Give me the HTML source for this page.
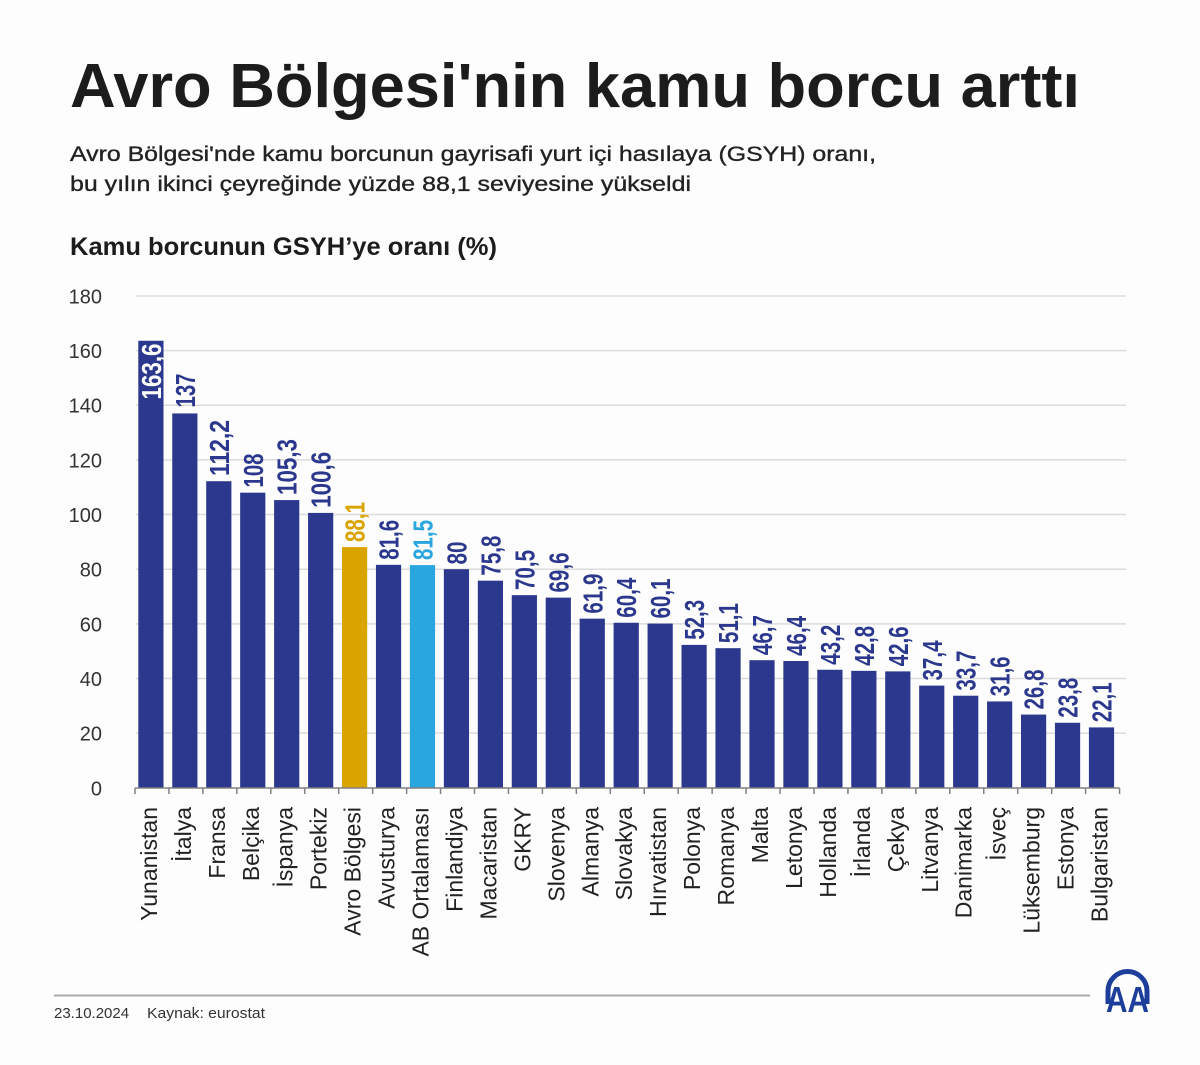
<!DOCTYPE html>
<html>
<head>
<meta charset="utf-8">
<style>
html,body{margin:0;padding:0;background:#fdfdfd;}
svg{display:block;}
text{font-family:"Liberation Sans",Arial,sans-serif;}
</style>
</head>
<body>
<svg width="1200" height="1065" viewBox="0 0 1200 1065" xmlns="http://www.w3.org/2000/svg">
<rect x="0" y="0" width="1200" height="1065" fill="#fdfdfd"/>

<!-- Titles -->
<text x="70" y="107" font-size="62" font-weight="bold" fill="#1c1c1c" textLength="1010" lengthAdjust="spacingAndGlyphs">Avro Bölgesi'nin kamu borcu arttı</text>
<text x="70" y="161" font-size="21" fill="#222" stroke="#222" stroke-width="0.35" textLength="806" lengthAdjust="spacingAndGlyphs">Avro Bölgesi'nde kamu borcunun gayrisafi yurt içi hasılaya (GSYH) oranı,</text>
<text x="70" y="191" font-size="21" fill="#222" stroke="#222" stroke-width="0.35" textLength="621" lengthAdjust="spacingAndGlyphs">bu yılın ikinci çeyreğinde yüzde 88,1 seviyesine yükseldi</text>
<text x="70" y="255" font-size="25" font-weight="bold" fill="#1c1c1c" textLength="427" lengthAdjust="spacingAndGlyphs">Kamu borcunun GSYH’ye oranı (%)</text>

<!-- Gridlines -->
<g stroke="#dcdcdc" stroke-width="1.5">
<line x1="136" y1="733.15" x2="1126" y2="733.15"/>
<line x1="136" y1="678.5" x2="1126" y2="678.5"/>
<line x1="136" y1="623.85" x2="1126" y2="623.85"/>
<line x1="136" y1="569.2" x2="1126" y2="569.2"/>
<line x1="136" y1="514.55" x2="1126" y2="514.55"/>
<line x1="136" y1="459.9" x2="1126" y2="459.9"/>
<line x1="136" y1="405.25" x2="1126" y2="405.25"/>
<line x1="136" y1="350.6" x2="1126" y2="350.6"/>
<line x1="136" y1="295.95" x2="1126" y2="295.95"/>
</g>

<!-- Y labels -->
<g font-size="20" fill="#333" text-anchor="end">
<text x="102" y="795.3">0</text>
<text x="102" y="740.6">20</text>
<text x="102" y="686">40</text>
<text x="102" y="631.3">60</text>
<text x="102" y="576.7">80</text>
<text x="102" y="522">100</text>
<text x="102" y="467.4">120</text>
<text x="102" y="412.7">140</text>
<text x="102" y="358.1">160</text>
<text x="102" y="303.4">180</text>
</g>

<!-- Bars -->
<g font-size="28" font-weight="bold">
<g transform="translate(135,0)"><rect x="3.3" y="340.76" width="25.2" height="447.04" fill="#2b388d"/><text transform="translate(25.9,343.5) rotate(-90)" fill="#fff" text-anchor="end" textLength="56" lengthAdjust="spacingAndGlyphs">163,6</text></g>
<g transform="translate(168.95,0)"><rect x="3.3" y="413.45" width="25.2" height="374.35" fill="#2b388d"/><text transform="translate(25.9,407.5) rotate(-90)" fill="#2b388d" textLength="34" lengthAdjust="spacingAndGlyphs">137</text></g>
<g transform="translate(202.9,0)"><rect x="3.3" y="481.21" width="25.2" height="306.59" fill="#2b388d"/><text transform="translate(25.9,476) rotate(-90)" fill="#2b388d" textLength="56" lengthAdjust="spacingAndGlyphs">112,2</text></g>
<g transform="translate(236.85,0)"><rect x="3.3" y="492.69" width="25.2" height="295.11" fill="#2b388d"/><text transform="translate(25.9,487.5) rotate(-90)" fill="#2b388d" textLength="34" lengthAdjust="spacingAndGlyphs">108</text></g>
<g transform="translate(270.8,0)"><rect x="3.3" y="500.07" width="25.2" height="287.73" fill="#2b388d"/><text transform="translate(25.9,495) rotate(-90)" fill="#2b388d" textLength="56" lengthAdjust="spacingAndGlyphs">105,3</text></g>
<g transform="translate(304.75,0)"><rect x="3.3" y="512.91" width="25.2" height="274.89" fill="#2b388d"/><text transform="translate(25.9,507.8) rotate(-90)" fill="#2b388d" textLength="56" lengthAdjust="spacingAndGlyphs">100,6</text></g>
<g transform="translate(338.7,0)"><rect x="3.3" y="547.07" width="25.2" height="240.73" fill="#d9a300"/><text transform="translate(25.9,542) rotate(-90)" fill="#d9a300" textLength="40" lengthAdjust="spacingAndGlyphs">88,1</text></g>
<g transform="translate(372.65,0)"><rect x="3.3" y="564.83" width="25.2" height="222.97" fill="#2b388d"/><text transform="translate(25.9,559.8) rotate(-90)" fill="#2b388d" textLength="40" lengthAdjust="spacingAndGlyphs">81,6</text></g>
<g transform="translate(406.6,0)"><rect x="3.3" y="565.1" width="25.2" height="222.7" fill="#29a6df"/><text transform="translate(25.9,560) rotate(-90)" fill="#29a6df" textLength="40" lengthAdjust="spacingAndGlyphs">81,5</text></g>
<g transform="translate(440.55,0)"><rect x="3.3" y="569.2" width="25.2" height="218.6" fill="#2b388d"/><text transform="translate(25.9,564.5) rotate(-90)" fill="#2b388d" textLength="23" lengthAdjust="spacingAndGlyphs">80</text></g>
<g transform="translate(474.5,0)"><rect x="3.3" y="580.68" width="25.2" height="207.12" fill="#2b388d"/><text transform="translate(25.9,575.6) rotate(-90)" fill="#2b388d" textLength="40" lengthAdjust="spacingAndGlyphs">75,8</text></g>
<g transform="translate(508.45,0)"><rect x="3.3" y="595.16" width="25.2" height="192.64" fill="#2b388d"/><text transform="translate(25.9,590) rotate(-90)" fill="#2b388d" textLength="40" lengthAdjust="spacingAndGlyphs">70,5</text></g>
<g transform="translate(542.4,0)"><rect x="3.3" y="597.62" width="25.2" height="190.18" fill="#2b388d"/><text transform="translate(25.9,592.5) rotate(-90)" fill="#2b388d" textLength="40" lengthAdjust="spacingAndGlyphs">69,6</text></g>
<g transform="translate(576.35,0)"><rect x="3.3" y="618.66" width="25.2" height="169.14" fill="#2b388d"/><text transform="translate(25.9,613.6) rotate(-90)" fill="#2b388d" textLength="40" lengthAdjust="spacingAndGlyphs">61,9</text></g>
<g transform="translate(610.3,0)"><rect x="3.3" y="622.76" width="25.2" height="165.04" fill="#2b388d"/><text transform="translate(25.9,617.7) rotate(-90)" fill="#2b388d" textLength="40" lengthAdjust="spacingAndGlyphs">60,4</text></g>
<g transform="translate(644.25,0)"><rect x="3.3" y="623.58" width="25.2" height="164.22" fill="#2b388d"/><text transform="translate(25.9,618.5) rotate(-90)" fill="#2b388d" textLength="40" lengthAdjust="spacingAndGlyphs">60,1</text></g>
<g transform="translate(678.2,0)"><rect x="3.3" y="644.89" width="25.2" height="142.91" fill="#2b388d"/><text transform="translate(25.9,639.8) rotate(-90)" fill="#2b388d" textLength="40" lengthAdjust="spacingAndGlyphs">52,3</text></g>
<g transform="translate(712.15,0)"><rect x="3.3" y="648.17" width="25.2" height="139.63" fill="#2b388d"/><text transform="translate(25.9,643.1) rotate(-90)" fill="#2b388d" textLength="40" lengthAdjust="spacingAndGlyphs">51,1</text></g>
<g transform="translate(746.1,0)"><rect x="3.3" y="660.19" width="25.2" height="127.61" fill="#2b388d"/><text transform="translate(25.9,655.1) rotate(-90)" fill="#2b388d" textLength="40" lengthAdjust="spacingAndGlyphs">46,7</text></g>
<g transform="translate(780.05,0)"><rect x="3.3" y="661.01" width="25.2" height="126.79" fill="#2b388d"/><text transform="translate(25.9,655.9) rotate(-90)" fill="#2b388d" textLength="40" lengthAdjust="spacingAndGlyphs">46,4</text></g>
<g transform="translate(814,0)"><rect x="3.3" y="669.76" width="25.2" height="118.04" fill="#2b388d"/><text transform="translate(25.9,664.7) rotate(-90)" fill="#2b388d" textLength="40" lengthAdjust="spacingAndGlyphs">43,2</text></g>
<g transform="translate(847.95,0)"><rect x="3.3" y="670.85" width="25.2" height="116.95" fill="#2b388d"/><text transform="translate(25.9,665.8) rotate(-90)" fill="#2b388d" textLength="40" lengthAdjust="spacingAndGlyphs">42,8</text></g>
<g transform="translate(881.9,0)"><rect x="3.3" y="671.4" width="25.2" height="116.4" fill="#2b388d"/><text transform="translate(25.9,666.3) rotate(-90)" fill="#2b388d" textLength="40" lengthAdjust="spacingAndGlyphs">42,6</text></g>
<g transform="translate(915.85,0)"><rect x="3.3" y="685.6" width="25.2" height="102.2" fill="#2b388d"/><text transform="translate(25.9,680.5) rotate(-90)" fill="#2b388d" textLength="40" lengthAdjust="spacingAndGlyphs">37,4</text></g>
<g transform="translate(949.8,0)"><rect x="3.3" y="695.71" width="25.2" height="92.09" fill="#2b388d"/><text transform="translate(25.9,690.6) rotate(-90)" fill="#2b388d" textLength="40" lengthAdjust="spacingAndGlyphs">33,7</text></g>
<g transform="translate(983.75,0)"><rect x="3.3" y="701.45" width="25.2" height="86.35" fill="#2b388d"/><text transform="translate(25.9,696.4) rotate(-90)" fill="#2b388d" textLength="40" lengthAdjust="spacingAndGlyphs">31,6</text></g>
<g transform="translate(1017.7,0)"><rect x="3.3" y="714.57" width="25.2" height="73.23" fill="#2b388d"/><text transform="translate(25.9,709.5) rotate(-90)" fill="#2b388d" textLength="40" lengthAdjust="spacingAndGlyphs">26,8</text></g>
<g transform="translate(1051.65,0)"><rect x="3.3" y="722.77" width="25.2" height="65.03" fill="#2b388d"/><text transform="translate(25.9,717.7) rotate(-90)" fill="#2b388d" textLength="40" lengthAdjust="spacingAndGlyphs">23,8</text></g>
<g transform="translate(1085.6,0)"><rect x="3.3" y="727.41" width="25.2" height="60.39" fill="#2b388d"/><text transform="translate(25.9,722.3) rotate(-90)" fill="#2b388d" textLength="40" lengthAdjust="spacingAndGlyphs">22,1</text></g>
</g>

<!-- Axis -->
<g stroke="#808080" stroke-width="1.5">
<line x1="135" y1="788" x2="1119.6" y2="788"/>
<path d="M135 788v6M168.95 788v6M202.9 788v6M236.85 788v6M270.8 788v6M304.75 788v6M338.7 788v6M372.65 788v6M406.6 788v6M440.55 788v6M474.5 788v6M508.45 788v6M542.4 788v6M576.35 788v6M610.3 788v6M644.25 788v6M678.2 788v6M712.15 788v6M746.1 788v6M780.05 788v6M814 788v6M847.95 788v6M881.9 788v6M915.85 788v6M949.8 788v6M983.75 788v6M1017.7 788v6M1051.65 788v6M1085.6 788v6M1119.55 788v6" fill="none"/>
</g>

<!-- X labels -->
<g font-size="23" fill="#222" text-anchor="end">
<text transform="translate(156.9,807) rotate(-90)">Yunanistan</text>
<text transform="translate(190.85,807) rotate(-90)">İtalya</text>
<text transform="translate(224.8,807) rotate(-90)">Fransa</text>
<text transform="translate(258.75,807) rotate(-90)">Belçika</text>
<text transform="translate(292.7,807) rotate(-90)">İspanya</text>
<text transform="translate(326.65,807) rotate(-90)">Portekiz</text>
<text transform="translate(360.6,807) rotate(-90)">Avro Bölgesi</text>
<text transform="translate(394.55,807) rotate(-90)">Avusturya</text>
<text transform="translate(428.5,807) rotate(-90)">AB Ortalaması</text>
<text transform="translate(462.45,807) rotate(-90)">Finlandiya</text>
<text transform="translate(496.4,807) rotate(-90)">Macaristan</text>
<text transform="translate(530.35,807) rotate(-90)">GKRY</text>
<text transform="translate(564.3,807) rotate(-90)">Slovenya</text>
<text transform="translate(598.25,807) rotate(-90)">Almanya</text>
<text transform="translate(632.2,807) rotate(-90)">Slovakya</text>
<text transform="translate(666.15,807) rotate(-90)">Hırvatistan</text>
<text transform="translate(700.1,807) rotate(-90)">Polonya</text>
<text transform="translate(734.05,807) rotate(-90)">Romanya</text>
<text transform="translate(768,807) rotate(-90)">Malta</text>
<text transform="translate(801.95,807) rotate(-90)">Letonya</text>
<text transform="translate(835.9,807) rotate(-90)">Hollanda</text>
<text transform="translate(869.85,807) rotate(-90)">İrlanda</text>
<text transform="translate(903.8,807) rotate(-90)">Çekya</text>
<text transform="translate(937.75,807) rotate(-90)">Litvanya</text>
<text transform="translate(971.7,807) rotate(-90)">Danimarka</text>
<text transform="translate(1005.65,807) rotate(-90)">İsveç</text>
<text transform="translate(1039.6,807) rotate(-90)">Lüksemburg</text>
<text transform="translate(1073.55,807) rotate(-90)">Estonya</text>
<text transform="translate(1107.5,807) rotate(-90)">Bulgaristan</text>
</g>

<!-- Footer -->
<line x1="54" y1="995.5" x2="1090" y2="995.5" stroke="#ababab" stroke-width="2"/>
<text x="54" y="1018" font-size="15" fill="#333">23.10.2024</text>
<text x="147" y="1018" font-size="15" fill="#333" textLength="118" lengthAdjust="spacingAndGlyphs">Kaynak: eurostat</text>

<!-- AA logo -->
<path d="M1108 1004 L1108 991 A19.5 19.5 0 0 1 1147 991 L1147 1004" fill="none" stroke="#1d3f9b" stroke-width="5"/>
<text x="1106" y="1012" font-size="36" font-weight="bold" fill="#1d3f9b" textLength="43" lengthAdjust="spacingAndGlyphs">AA</text>
</svg>
</body>
</html>
